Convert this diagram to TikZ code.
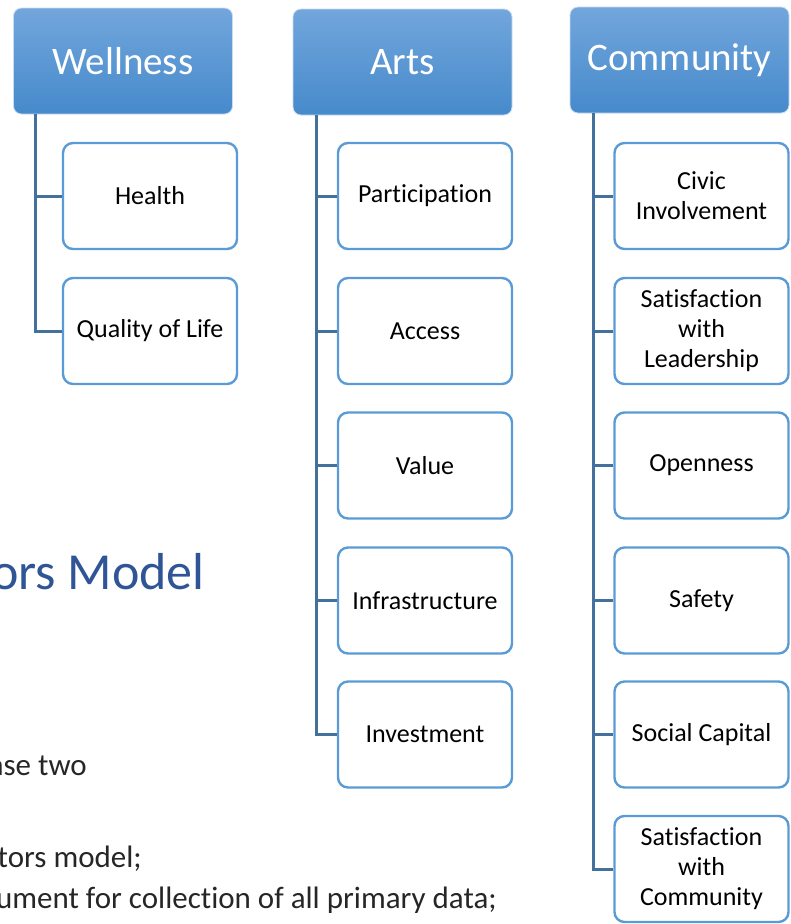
\documentclass[tikz,border=0pt]{standalone}
\usepackage{fontspec}
\setmainfont{Carlito}[Ligatures=NoCommon]
\usetikzlibrary{calc}

\definecolor{pillartop}{RGB}{114,166,220}
\definecolor{pillarbot}{RGB}{70,138,203}
\definecolor{itemedge}{RGB}{91,155,213}
\definecolor{branch}{RGB}{65,113,156}
\definecolor{titleblue}{RGB}{47,85,151}

\begin{document}
\begin{tikzpicture}[
    x=1pt,
    y=-1pt,
    pillarbox/.style={
        rectangle,
        rounded corners=8pt,
        top color=pillartop,
        bottom color=pillarbot,
        draw=white!60!pillartop,
        line width=0.8pt,
        text=white,
        font=\fontsize{39}{44}\selectfont,
        minimum width=219pt,
        minimum height=106pt,
        inner sep=0pt
    },
    itembox/.style={
        rectangle,
        rounded corners=10pt,
        draw=itemedge,
        fill=white,
        line width=2.4pt,
        font=\fontsize{26}{30}\selectfont,
        align=center,
        minimum width=174pt,
        minimum height=106pt,
        inner sep=0pt
    },
    branchline/.style={
        draw=branch,
        line width=3pt
    },
    slidetext/.style={
        anchor=base east,
        inner sep=0pt,
        text=black!85,
        font=\fontsize{31}{36}\selectfont
    }
]
\useasboundingbox (0,0) rectangle (791,924);

% Slide text behind the chart
\node[anchor=base east,inner sep=0pt,text=titleblue,
    font=\fontsize{52}{60}\selectfont] (title) at (205,589) {ors Model};
\node[slidetext] (line1) at (87,775) {nse two};
\node[slidetext] (line2) at (142,867) {tors model;};
\node[slidetext] (line3) at (497,908)
{ument for collection of all primary data;};

% Wellness
\node[pillarbox] (wel) at (123,61) {Wellness};
\node[itembox] (health) at (150,196) {Health};
\node[itembox] (life) at (150,331) {Quality of Life};

\draw[branchline] ($(wel.south west)+(22,0)$) |- (health.west);
\draw[branchline] ($(wel.south west)+(22,0)$) |- (life.west);

% Arts
\node[pillarbox] (arts) at (402.5,62) {Arts};
\node[itembox] (partic) at (425,196) {Participation};
\node[itembox] (access) at (425,331) {Access};
\node[itembox] (value) at (425,465.5) {Value};
\node[itembox] (infra) at (425,600.5) {Infrastructure};
\node[itembox] (invest) at (425,734.5) {Investment};

\draw[branchline] ($(arts.south west)+(24,0)$) |- (partic.west);
\draw[branchline] ($(arts.south west)+(24,0)$) |- (access.west);
\draw[branchline] ($(arts.south west)+(24,0)$) |- (value.west);
\draw[branchline] ($(arts.south west)+(24,0)$) |- (infra.west);
\draw[branchline] ($(arts.south west)+(24,0)$) |- (invest.west);

% Community
\node[pillarbox] (comm) at (679.5,60) {Community};
\node[itembox] (civic) at (701.5,196) {Civic\\Involvement};
\node[itembox] (leader) at (701.5,331) {Satisfaction\\with\\Leadership};
\node[itembox] (open) at (701.5,465.5) {Openness};
\node[itembox] (safety) at (701.5,600.5) {Safety};
\node[itembox] (social) at (701.5,734.5) {Social Capital};
\node[itembox] (satcomm) at (701.5,869) {Satisfaction\\with\\Community};

\draw[branchline] ($(comm.south west)+(24,0)$) |- (civic.west);
\draw[branchline] ($(comm.south west)+(24,0)$) |- (leader.west);
\draw[branchline] ($(comm.south west)+(24,0)$) |- (open.west);
\draw[branchline] ($(comm.south west)+(24,0)$) |- (safety.west);
\draw[branchline] ($(comm.south west)+(24,0)$) |- (social.west);
\draw[branchline] ($(comm.south west)+(24,0)$) |- (satcomm.west);

\end{tikzpicture}
\end{document}
